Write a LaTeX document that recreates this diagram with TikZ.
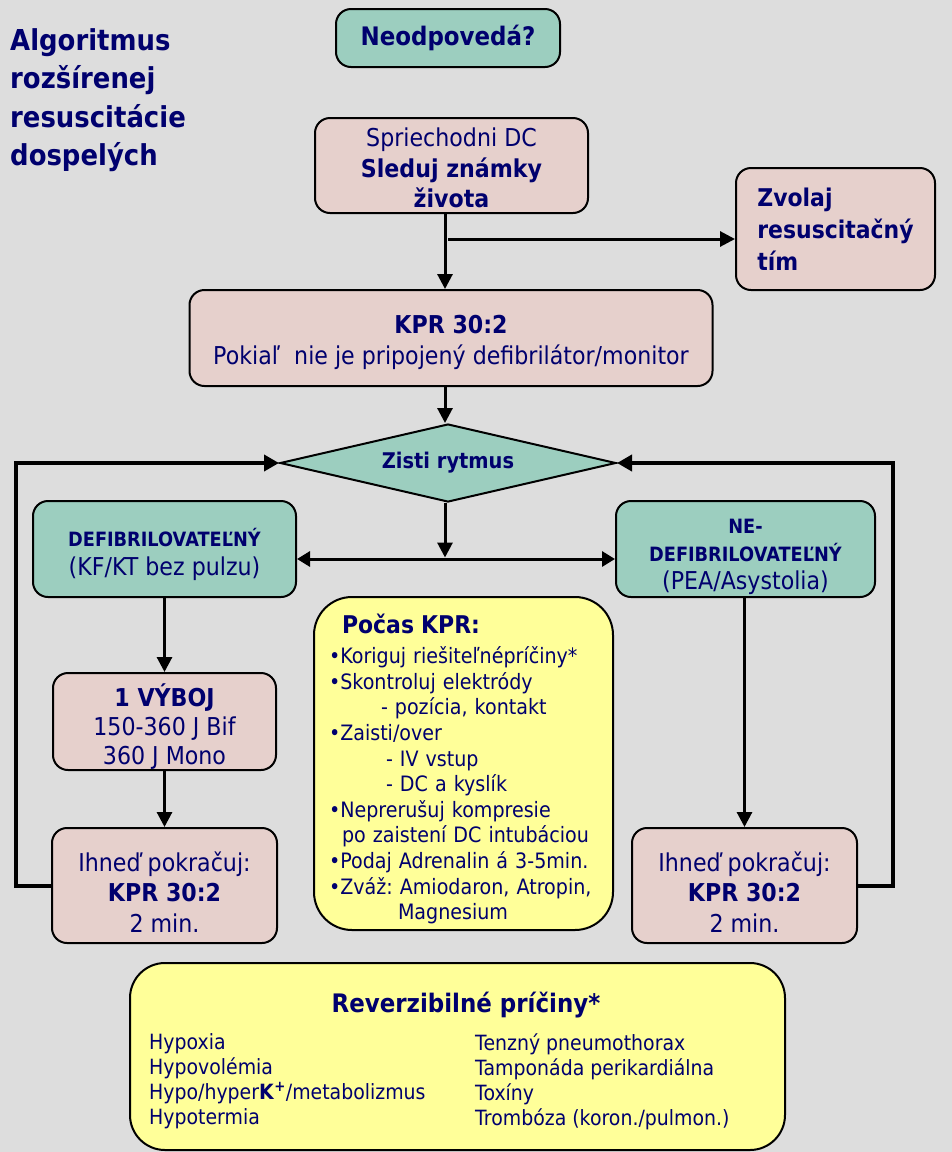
\documentclass[tikz,border=0pt]{standalone}
\usepackage{fontspec}
\setmainfont{DejaVu Sans}[FakeStretch=0.9]
\usetikzlibrary{shapes.geometric,arrows.meta}
\definecolor{bgcol}{RGB}{221,221,221}
\definecolor{tealfill}{RGB}{156,206,191}
\definecolor{pinkfill}{RGB}{230,208,204}
\definecolor{yelfill}{RGB}{255,255,153}
\definecolor{navy}{RGB}{0,0,110}
\def\nfont{\fontsize{24.6}{30.5}\selectfont}
\def\sfont{\fontsize{21.2}{25.6}\selectfont}
\def\capsfont{\fontsize{19.7}{28}\selectfont\bfseries}
\def\lowr#1{\rule{0pt}{#1}}
\frenchspacing

\begin{document}
\begin{tikzpicture}[x=1pt,y=-1pt,
	flowbox/.style={draw=black,line width=2pt,rounded corners=15pt,align=center,text=navy,font=\nfont,inner sep=0pt},
	tealbox/.style={flowbox,fill=tealfill},
	pinkbox/.style={flowbox,fill=pinkfill},
	yelbox/.style={flowbox,fill=yelfill,rounded corners=38pt},
	arr/.style={line width=3pt,-{Triangle[length=15pt,width=15pt]}},
	backline/.style={line width=4pt,-{Triangle[length=15pt,width=16pt]}}]
			%%%%% START %%%%%
			
			\fill[bgcol] (0,0) rectangle (952,1152);
			
			\node[anchor=north west,align=left,inner sep=0pt,text=navy,font=\fontsize{28.8}{38.5}\selectfont\bfseries] (title) at (10,28) {Algoritmus\\rozšírenej\\resuscitácie\\dospelých};
			
			\node[tealbox,minimum width=224,minimum height=58,font=\fontsize{25.5}{28}\selectfont] (neo) at (448,38) {\bfseries Neodpovedá?};
			\node[pinkbox,minimum width=273,minimum height=95] (spr) at (451.5,165.5) {\lowr{24pt}Spriechodni DC\\\bfseries Sleduj známky\\\bfseries života};
			\node[pinkbox,align=left,minimum width=199,minimum height=122,font=\fontsize{24.4}{32}\selectfont\bfseries] (zvo) at (835.5,229) {Zvolaj\\resuscitačný\\tím};
			\node[pinkbox,minimum width=523,minimum height=96] (kpr) at (451,338) {\lowr{27pt}\bfseries KPR 30:2\\Pokiaľ~ nie je pripojený defibrilátor/monitor};
			
			\node[diamond,aspect=4.4,draw=black,line width=2pt,fill=tealfill,text=navy,inner sep=0pt,minimum width=336,minimum height=78,font=\fontsize{21.6}{24}\selectfont\bfseries] (dia) at (448,463) {Zisti rytmus};
			
			\node[tealbox,minimum width=263,minimum height=96,font=\fontsize{24.6}{29}\selectfont] (defib) at (164.5,549) {\lowr{30pt}{\capsfont DEFIBRILOVATEĽNÝ}\\(KF/KT bez pulzu)};
			\node[tealbox,minimum width=259,minimum height=96,font=\fontsize{24.6}{28}\selectfont] (nedef) at (745.5,549) {\lowr{31pt}{\capsfont NE-}\\{\capsfont DEFIBRILOVATEĽNÝ}\\(PEA/Asystolia)};
			
			\node[pinkbox,minimum width=223,minimum height=97,font=\fontsize{24.6}{29}\selectfont] (vyb) at (164.5,721.5) {\lowr{33pt}\bfseries 1 VÝBOJ\\150-360 J Bif\\360 J Mono};
			\node[pinkbox,minimum width=225,minimum height=115] (ih1) at (164.5,885.5) {\lowr{32pt}Ihneď pokračuj:\\\bfseries KPR 30:2\\2 min.};
			\node[pinkbox,minimum width=225,minimum height=115] (ih2) at (744.5,885.5) {\lowr{32pt}Ihneď pokračuj:\\\bfseries KPR 30:2\\2 min.};
			
			\node[yelbox,minimum width=299,minimum height=333,text width=269pt,inner xsep=15pt,align=left,font=\sfont] (pocas) at (463.5,763.5) {%
				\hspace*{13pt}\lowr{30pt}{\fontsize{24.4}{26}\selectfont\bfseries Počas KPR:}\\[5pt]
				•Koriguj riešiteľnépríčiny*\\
				•Skontroluj elektródy\\
				\hspace*{52pt}- pozícia, kontakt\\
				•Zaisti/over\\
				\hspace*{57pt}- IV vstup\\
				\hspace*{57pt}- DC a kyslík\\
				•Neprerušuj kompresie\\
				\hspace*{13pt}po zaistení DC intubáciou\\
				•Podaj Adrenalin á 3-5min.\\
				•Zváž: Amiodaron, Atropin,\\
				\hspace*{69pt}Magnesium};
			
			\node[yelbox,minimum width=655,minimum height=187,rounded corners=35pt] (rev) at (457.5,1056.5) {};
			\node[text=navy,inner sep=0pt,font=\fontsize{25.5}{28}\selectfont\bfseries] (revtit) at (466,1005) {Reverzibilné príčiny*};
			\node[anchor=north west,align=left,inner sep=0pt,text=navy,font=\fontsize{21}{25}\selectfont] (revl) at (149,1033) {Hypoxia\\Hypovolémia\\Hypo/hyper\textbf{K}\textsuperscript{\textbf{+}}/metabolizmus\\Hypotermia};
			\node[anchor=north west,align=left,inner sep=0pt,text=navy,font=\fontsize{21}{25}\selectfont] (revr) at (475,1033) {Tenzný pneumothorax\\Tamponáda perikardiálna\\Toxíny\\Trombóza (koron./pulmon.)};
			
			% arrows
			\coordinate (colx) at (445,0);
			\coordinate (br) at (448,239);
			\coordinate (split) at (445,559);
			\draw[arr] (spr.south -| colx) -- (kpr.north -| colx);
			\draw[arr] (br) -- (br -| zvo.west);
			\draw[arr] (kpr.south -| colx) -- (dia.north -| colx);
			\draw[arr] (dia.south -| colx) -- ([yshift=1.5pt]split);
			\draw[line width=3pt,{Triangle[length=13pt,width=15pt]}-{Triangle[length=13pt,width=15pt]}] (defib.east |- split) -- (nedef.west |- split);
			\draw[arr] (defib.south) -- (vyb.north);
			\draw[arr] (vyb.south) -- (ih1.north);
			\draw[arr] (nedef.south -| ih2.north) -- (ih2.north);
			
			% loops back to the rhythm check
			\coordinate (lx) at (16,463);
			\coordinate (rx) at (893,463);
			\draw[backline] (ih1.west) -| (lx) -- (dia.west);
			\draw[backline] (ih2.east) -| (rx) -- (dia.east);
			
			%%%%% END %%%%%
\end{tikzpicture}
\end{document}
